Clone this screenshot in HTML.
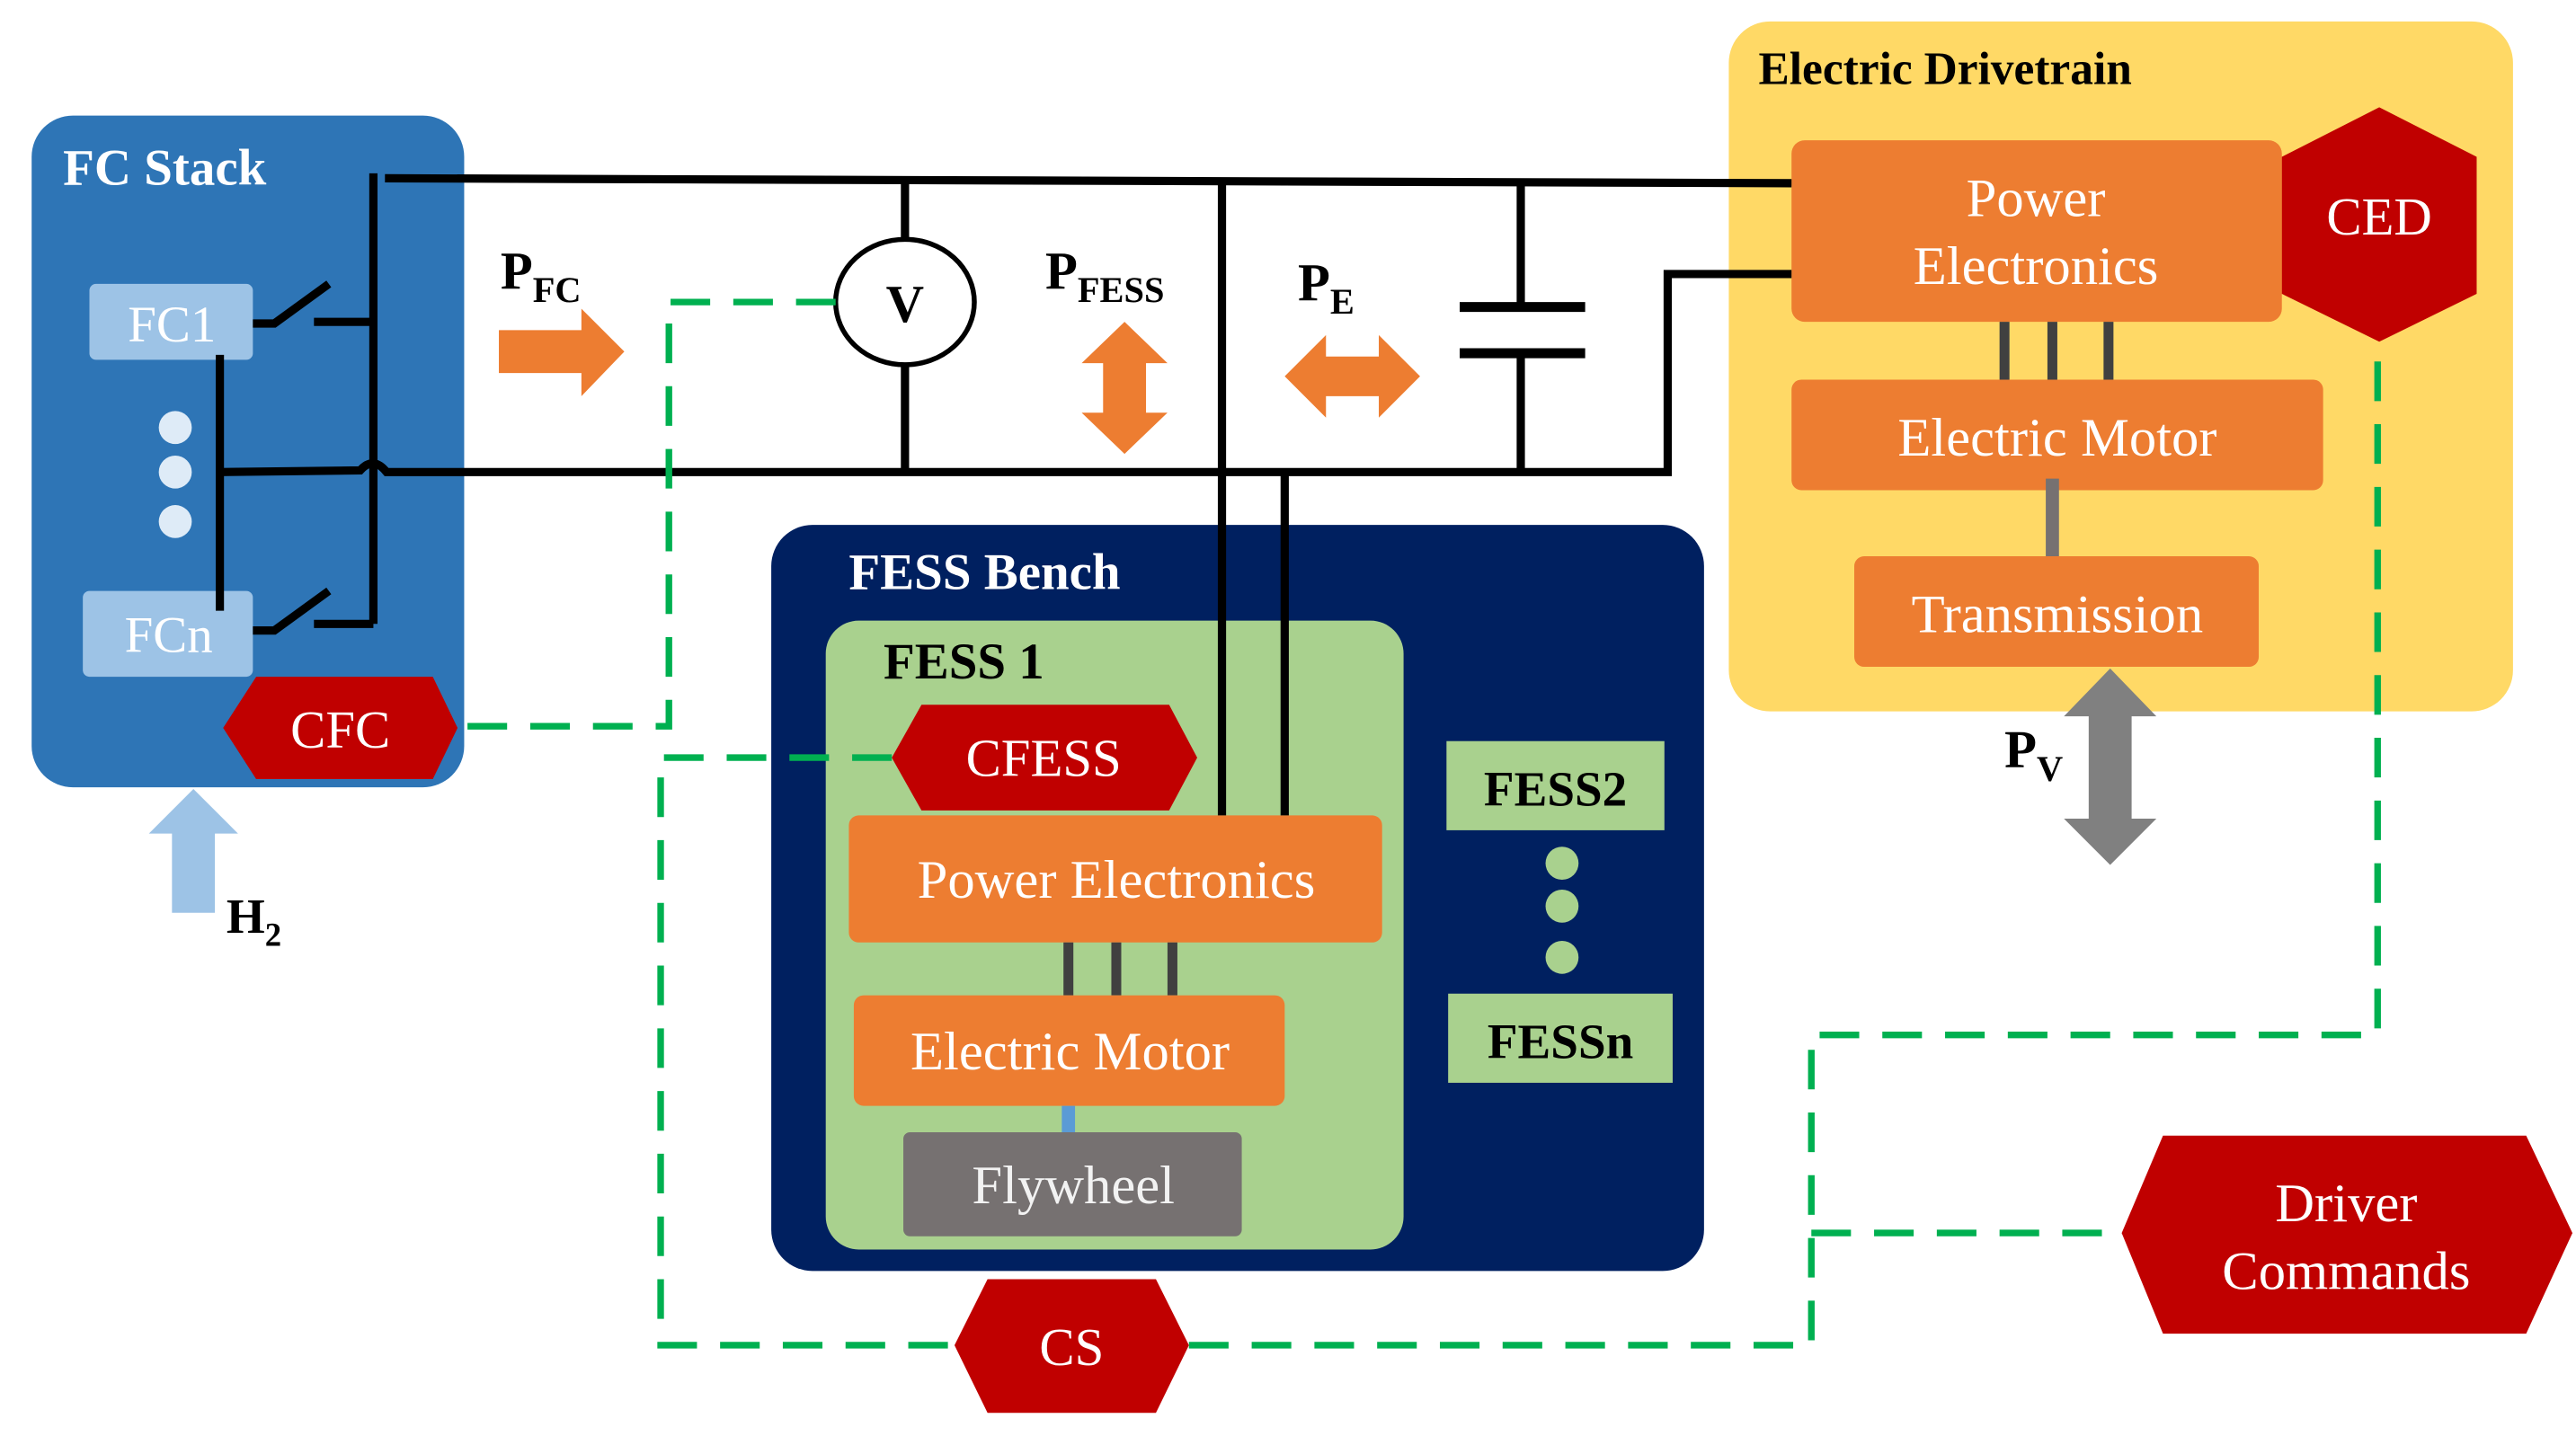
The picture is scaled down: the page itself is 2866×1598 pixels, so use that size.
<!DOCTYPE html>
<html><head><meta charset="utf-8"><style>html,body{margin:0;padding:0;background:#fff}svg{display:block}</style></head><body>
<svg width="2866" height="1598" viewBox="0 0 1560 870" xmlns="http://www.w3.org/2000/svg" font-family="'Liberation Serif', serif">
<!-- FC Stack -->
<rect x="19" y="70" width="262" height="407" rx="25" fill="#2E75B6"/>
<text x="38" y="112" font-size="31" font-weight="bold" fill="#fff">FC Stack</text>
<rect x="54" y="172" width="99" height="46" rx="4" fill="#9DC3E6"/>
<text x="104" y="207" font-size="31" fill="#fff" text-anchor="middle">FC1</text>
<rect x="50" y="358" width="103" height="52" rx="4" fill="#9DC3E6"/>
<text x="102" y="395" font-size="31" fill="#fff" text-anchor="middle">FCn</text>
<circle cx="106" cy="259" r="10" fill="#DEEBF7"/><circle cx="106" cy="286" r="10" fill="#DEEBF7"/><circle cx="106" cy="316" r="10" fill="#DEEBF7"/>
<!-- Drivetrain -->
<rect x="1047" y="13" width="475" height="418" rx="25" fill="#FFD966"/>
<text x="1065" y="51" font-size="28" font-weight="bold">Electric Drivetrain</text>
<rect x="1085" y="85" width="297" height="110" rx="8" fill="#ED7D31"/>
<text x="1233" y="131" font-size="33" fill="#fff" text-anchor="middle">Power</text>
<text x="1233" y="172" font-size="33" fill="#fff" text-anchor="middle">Electronics</text>
<polygon points="1441,65 1500,95 1500,178 1441,207 1382,178 1382,95" fill="#C00000"/>
<text x="1441" y="142" font-size="32" fill="#fff" text-anchor="middle">CED</text>
<g stroke="#404040" stroke-width="6"><line x1="1214" y1="195" x2="1214" y2="230"/><line x1="1243" y1="195" x2="1243" y2="230"/><line x1="1277" y1="195" x2="1277" y2="230"/></g>
<rect x="1085" y="230" width="322" height="67" rx="6" fill="#ED7D31"/>
<text x="1246" y="276" font-size="33" fill="#fff" text-anchor="middle">Electric Motor</text>
<line x1="1243" y1="290" x2="1243" y2="337" stroke="#767171" stroke-width="8"/>
<rect x="1123" y="337" width="245" height="67" rx="6" fill="#ED7D31"/>
<text x="1246" y="383" font-size="33" fill="#fff" text-anchor="middle">Transmission</text>
<!-- FESS Bench -->
<rect x="467" y="318" width="565" height="452" rx="25" fill="#002060"/>
<text x="514" y="357" font-size="31" font-weight="bold" fill="#fff">FESS Bench</text>
<rect x="500" y="376" width="350" height="381" rx="20" fill="#A9D18E"/>
<text x="535" y="411" font-size="31" font-weight="bold">FESS 1</text>
<rect x="514" y="494" width="323" height="77" rx="6" fill="#ED7D31"/>
<text x="676" y="544" font-size="33" fill="#fff" text-anchor="middle">Power Electronics</text>
<g stroke="#404040" stroke-width="6"><line x1="647" y1="571" x2="647" y2="603"/><line x1="676" y1="571" x2="676" y2="603"/><line x1="710" y1="571" x2="710" y2="603"/></g>
<rect x="517" y="603" width="261" height="67" rx="6" fill="#ED7D31"/>
<text x="648" y="648" font-size="33" fill="#fff" text-anchor="middle">Electric Motor</text>
<line x1="647" y1="670" x2="647" y2="686" stroke="#5B9BD5" stroke-width="8"/>
<rect x="547" y="686" width="205" height="63" rx="4" fill="#767171"/>
<text x="650" y="729" font-size="33" fill="#F2F2F2" text-anchor="middle">Flywheel</text>
<rect x="876" y="449" width="132" height="54" fill="#A9D18E"/>
<text x="942" y="488" font-size="30" font-weight="bold" text-anchor="middle">FESS2</text>
<circle cx="946" cy="523" r="10" fill="#A9D18E"/><circle cx="946" cy="549" r="10" fill="#A9D18E"/><circle cx="946" cy="580" r="10" fill="#A9D18E"/>
<rect x="877" y="602" width="136" height="54" fill="#A9D18E"/>
<text x="945" y="641" font-size="30" font-weight="bold" text-anchor="middle">FESSn</text>
<!-- wiring -->
<g stroke="#000" stroke-width="5" fill="none">
<line x1="133" y1="215" x2="133" y2="370"/>
<polyline points="153,196 166,196 199,172"/>
<line x1="190" y1="195" x2="226" y2="195"/>
<polyline points="153,382 166,382 199,358"/>
<line x1="190" y1="378" x2="226" y2="378"/>
<line x1="226" y1="105" x2="226" y2="378"/>
<polyline points="233,108 1085,111"/>
<path d="M133,286 L218,285 Q226,276 234,286 L1010,286 L1010,166 L1085,166"/>
<line x1="548" y1="108" x2="548" y2="286"/>
<line x1="740" y1="108" x2="740" y2="494"/>
<line x1="778" y1="286" x2="778" y2="494"/>
<line x1="921" y1="111" x2="921" y2="186"/>
<line x1="921" y1="214" x2="921" y2="286"/>
<line x1="884" y1="186" x2="960" y2="186" stroke-width="6"/>
<line x1="884" y1="214" x2="960" y2="214" stroke-width="6"/>
</g>
<ellipse cx="548" cy="183" rx="42" ry="38" fill="#fff" stroke="#000" stroke-width="3"/>
<text x="548" y="195" font-size="32" font-weight="bold" text-anchor="middle">V</text>
<!-- labels -->
<text x="303" y="175" font-size="32" font-weight="bold">P<tspan font-size="22" dy="8">FC</tspan></text>
<text x="633" y="175" font-size="32" font-weight="bold">P<tspan font-size="22" dy="8">FESS</tspan></text>
<text x="786" y="182" font-size="32" font-weight="bold">P<tspan font-size="22" dy="8">E</tspan></text>
<text x="1214" y="465" font-size="32" font-weight="bold">P<tspan font-size="22" dy="8">V</tspan></text>
<text x="137" y="565" font-size="30" font-weight="bold">H<tspan font-size="20" dy="8">2</tspan></text>
<!-- arrows -->
<polygon points="302,200 352,200 352,187 378,213 352,240 352,226 302,226" fill="#ED7D31"/>
<polygon points="681,195 707,220 694,220 694,250 707,250 681,275 655,250 668,250 668,220 655,220" fill="#ED7D31"/>
<polygon points="778,228 803,203 803,216 835,216 835,203 860,228 835,253 835,240 803,240 803,253" fill="#ED7D31"/>
<polygon points="1278,405 1306,434 1291,434 1291,496 1306,496 1278,524 1250,496 1265,496 1265,434 1250,434" fill="#808080"/>
<polygon points="117,478 144,505 130,505 130,553 104,553 104,505 90,505" fill="#9DC3E6"/>
<!-- dashed control lines -->
<g stroke="#00B050" stroke-width="4" fill="none" stroke-dasharray="24,14">
<polyline points="506,183 405,183 405,440 281,440"/>
<polyline points="540,459 400,459 400,815 578,815"/>
<polyline points="720,815 1097,815 1097,627 1440,627 1440,207"/>
<polyline points="1097,747 1285,747"/>
</g>
<polygon points="540,459 558,427 708,427 725,459 708,491 558,491" fill="#C00000"/>
<text x="632" y="470" font-size="32" fill="#fff" text-anchor="middle">CFESS</text>
<polygon points="135,441 155,410 262,410 277,441 262,472 155,472" fill="#C00000"/>
<text x="206" y="453" font-size="32" fill="#fff" text-anchor="middle">CFC</text>
<polygon points="578,815 598,775 700,775 720,815 700,856 598,856" fill="#C00000"/>
<text x="649" y="827" font-size="32" fill="#fff" text-anchor="middle">CS</text>
<polygon points="1285,747 1310,688 1530,688 1558,747 1530,808 1310,808" fill="#C00000"/>
<text x="1421" y="740" font-size="33" fill="#fff" text-anchor="middle">Driver</text>
<text x="1421" y="781" font-size="33" fill="#fff" text-anchor="middle">Commands</text>
</svg>
</body></html>
